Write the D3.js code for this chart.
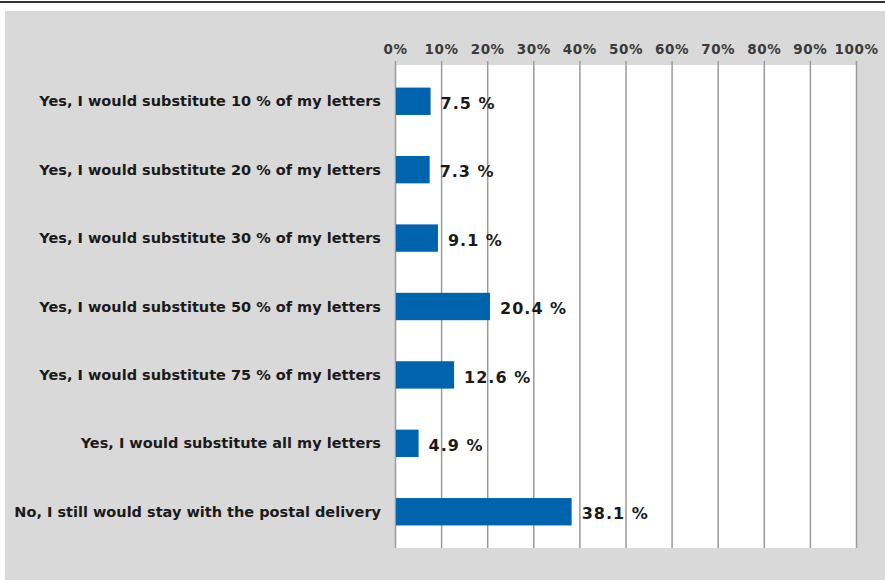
<!DOCTYPE html>
<html>
<head>
<meta charset="utf-8">
<script src="https://cdn.jsdelivr.net/npm/d3@7"></script>
<style>
  html, body { margin: 0; padding: 0; background: #ffffff; }
  svg { display: block; }
</style>
</head>
<body>
<svg id="chart" width="885" height="588"></svg>
<script>
// Survey answers and their shares (percent)
const categories = [
  "Yes, I would substitute 10 % of my letters",
  "Yes, I would substitute 20 % of my letters",
  "Yes, I would substitute 30 % of my letters",
  "Yes, I would substitute 50 % of my letters",
  "Yes, I would substitute 75 % of my letters",
  "Yes, I would substitute all my letters",
  "No, I still would stay with the postal delivery"
];
const values = [7.5, 7.3, 9.1, 20.4, 12.6, 4.9, 38.1];
const tickValues = [0, 10, 20, 30, 40, 50, 60, 70, 80, 90, 100];

const svg = d3.select("#chart");
const W = 885, H = 588;
const plot = { left: 395, right: 856, top: 65, bottom: 548 };
const font = "'DejaVu Sans', Verdana, sans-serif";

// Page frame: rule at top and grey panel
svg.append("line")
  .attr("x1", 0).attr("x2", W).attr("y1", 2).attr("y2", 2)
  .attr("stroke", "#333").attr("stroke-width", 2);
svg.append("rect")
  .attr("x", 5).attr("y", 11).attr("width", W - 5).attr("height", 569)
  .attr("fill", "#d9d9d9");

const x = d3.scaleLinear().domain([0, 100]).range([plot.left, plot.right]);
const y = d3.scaleBand().domain(categories).range([plot.top, plot.bottom]).paddingInner(0.6).paddingOuter(0.33);

// White plot area
svg.append("rect")
  .attr("x", plot.left).attr("y", plot.top)
  .attr("width", plot.right - plot.left).attr("height", plot.bottom - plot.top)
  .attr("fill", "#ffffff");

// Top axis with gridlines running through the plot
const xAxis = d3.axisTop(x)
  .tickValues(tickValues)
  .tickFormat(d => d + "%")
  .tickSizeInner(-(plot.bottom - plot.top))
  .tickSizeOuter(0);

const gx = svg.append("g")
  .attr("transform", `translate(0,${plot.top})`)
  .call(xAxis);
gx.select(".domain").remove();
gx.selectAll(".tick line")
  .attr("y1", -4)
  .attr("stroke", "#9a9a9a").attr("stroke-width", 1.5);
gx.selectAll(".tick text")
  .attr("y", -11)
  .attr("fill", "#3a3a3a")
  .style("font-family", font)
  .style("font-size", "13.5px")
  .style("font-weight", "bold")
  .style("letter-spacing", "0.6px");

// Bars
svg.append("g").selectAll("rect")
  .data(values)
  .join("rect")
  .attr("x", x(0) + 1)
  .attr("y", (d, i) => y(categories[i]))
  .attr("width", d => x(d) - x(0))
  .attr("height", y.bandwidth())
  .attr("fill", "#0063ad");

// Value labels
svg.append("g").selectAll("text")
  .data(values)
  .join("text")
  .attr("x", d => x(d) + 11)
  .attr("y", (d, i) => y(categories[i]) + y.bandwidth() / 2 + 2)
  .attr("dy", "0.35em")
  .attr("fill", "#1a1a1a")
  .style("font-family", font)
  .style("font-size", "16px")
  .style("font-weight", "bold")
  .style("letter-spacing", "1px")
  .text(d => d.toFixed(1) + " %");

// Category labels
svg.append("g").selectAll("text")
  .data(categories)
  .join("text")
  .attr("x", 381)
  .attr("y", d => y(d) + y.bandwidth() / 2)
  .attr("dy", "0.35em")
  .attr("text-anchor", "end")
  .attr("fill", "#1a1a1a")
  .style("font-family", font)
  .style("font-size", "14.5px")
  .style("font-weight", "bold")
  .text(d => d);
</script>
</body>
</html>
